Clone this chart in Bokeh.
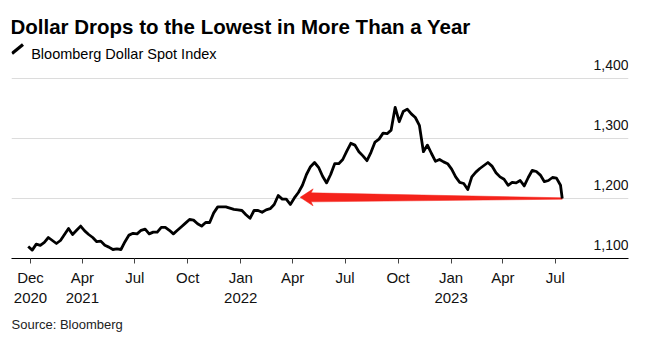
import numpy as np
import pandas as pd
from bokeh.plotting import figure
from bokeh.models import Range1d, FixedTicker, Label, LabelSet, ColumnDataSource, Arrow, Title
from bokeh.core.properties import value
from bokeh.embed import file_html
from bokeh.resources import INLINE

TITLE = "Dollar Drops to the Lowest in More Than a Year"
SUBTITLE = "Bloomberg Dollar Spot Index"
SOURCE = "Source: Bloomberg"

# weekly readings of the Bloomberg Dollar Spot Index (Mondays from 2020-12-28)
week_start = "2020-12-28"
index_values = [
    1120, 1114, 1124, 1122, 1127, 1135, 1130, 1125, 1130, 1140,
    1150, 1140, 1147, 1154, 1146, 1140, 1135, 1128, 1129, 1122,
    1119, 1115, 1116, 1115, 1128, 1139, 1142, 1141, 1147, 1149,
    1141, 1144, 1144, 1152, 1152, 1147, 1141, 1147, 1153, 1159,
    1165, 1164, 1158, 1154, 1160, 1160, 1176, 1186, 1186, 1186,
    1184, 1182, 1181, 1180, 1173, 1167, 1180, 1180, 1177, 1181,
    1183, 1190, 1205, 1199, 1199, 1190, 1201, 1210, 1222, 1240,
    1253, 1260, 1252, 1237, 1226, 1240, 1258, 1258, 1265, 1279,
    1292, 1289, 1278, 1271, 1263, 1277, 1294, 1299, 1309, 1308,
    1314, 1352, 1328, 1345, 1349, 1341, 1335, 1322, 1278, 1289,
    1275, 1262, 1265, 1261, 1258, 1249, 1236, 1227, 1225, 1215,
    1236, 1244, 1250, 1255, 1260, 1254, 1243, 1236, 1232, 1222,
    1227, 1226, 1230, 1221, 1235, 1247, 1245, 1239, 1228, 1230,
    1235, 1234, 1222,
]
last_date = "2023-07-13"
last_value = 1200

tick_dates = ["2021-01-01", "2021-04-01", "2021-07-01", "2021-10-01",
              "2022-01-01", "2022-04-01", "2022-07-01", "2022-10-01",
              "2023-01-01", "2023-04-01", "2023-07-01"]
tick_labels = ["Dec\n2020", "Apr\n2021", "Jul", "Oct", "Jan\n2022", "Apr",
               "Jul", "Oct", "Jan\n2023", "Apr", "Jul"]
y_ticks = [1100, 1200, 1300, 1400]
y_tick_labels = ["1,100", "1,200", "1,300", "1,400"]

arrow_tail = ("2023-07-13", 1200)
arrow_tip = ("2022-04-14", 1202)

RED = "#f5231b"

dates = list(pd.date_range(week_start, periods=len(index_values), freq="7D")) + [pd.Timestamp(last_date)]
vals = index_values + [last_value]

W, H = 645, 342
ML, MR, MT, MB = 11, 17, 0, 84
FW, FH = W - ML - MR, H - MT - MB
PX_PER_UNIT = 0.6

x0, x1 = pd.Timestamp("2020-11-29"), pd.Timestamp("2023-11-05")
y0 = 1100
y1 = y0 + FH / PX_PER_UNIT

p = figure(width=W, height=H, x_axis_type="datetime", title=None,
           x_range=Range1d(x0, x1), y_range=Range1d(y0, y1),
           output_backend="svg", toolbar_location=None,
           min_border_left=ML, min_border_right=MR, min_border_top=MT, min_border_bottom=MB)
p.outline_line_color = None
p.background_fill_color = "white"
p.border_fill_color = "white"

# grid
p.xgrid.visible = False
p.yaxis.visible = False
p.ygrid.ticker = FixedTicker(ticks=[t for t in y_ticks if t > y0])
p.ygrid.grid_line_color = "#dcdcdc"
p.ygrid.grid_line_width = 1

# x axis
tick_ms = [pd.Timestamp(d).value / 1e6 for d in tick_dates]
ax = p.xaxis[0]
ax.ticker = FixedTicker(ticks=tick_ms)
ax.major_label_overrides = {t: l for t, l in zip(tick_ms, tick_labels)}
ax.axis_line_color = "black"
ax.axis_line_width = 1
ax.major_tick_line_color = "#444444"
ax.major_tick_in = 0
ax.major_tick_out = 5
ax.minor_tick_line_color = None
ax.major_label_text_font = "Liberation Sans"
ax.major_label_text_font_size = "15px"
ax.major_label_text_color = "#111111"
ax.major_label_standoff = 5

# red arrow (tapered polygon anchored on data points)
ppd = FW / ((x1 - x0).total_seconds() / 86400)
ppu = FH / (y1 - y0)
tip_t, tip_v = pd.Timestamp(arrow_tip[0]), arrow_tip[1]
tail_t, tail_v = pd.Timestamp(arrow_tail[0]), arrow_tail[1]
dx = (tail_t - tip_t).total_seconds() / 86400 * ppd
dy = (tail_v - tip_v) * ppu
L = np.hypot(dx, dy)
u = np.array([dx, dy]) / L
v = np.array([-u[1], u[0]])
shape = [(0, 0), (13, 8.5), (11, 4.5), (L, 0.7), (L, -0.7), (11, -4.5), (13, -8.5)]
ax_x, ax_y = [], []
for s, n in shape:
    px = s * u + n * v
    ax_x.append(tip_t + pd.Timedelta(days=px[0] / ppd))
    ax_y.append(tip_v + px[1] / ppu)
p.patch(ax_x, ax_y, fill_color=RED, line_color=RED, line_width=0.5)

# series
p.line(dates, vals, line_color="black", line_width=2.8, line_join="round")

# y tick labels above grid lines at right
ysrc = ColumnDataSource(dict(x=[x1] * len(y_ticks), y=y_ticks, t=y_tick_labels))
p.add_layout(LabelSet(x="x", y="y", text="t", source=ysrc, text_align="right",
                      text_baseline="alphabetic", y_offset=8.5,
                      text_font=value("Liberation Sans"), text_font_size=value("14px"),
                      text_color="#111111"))

# titles (inside the frame, which reaches the top of the canvas)
p.add_layout(Label(x=-1, y=232, x_units="screen", y_units="screen", text=TITLE,
                   text_font="Liberation Sans", text_font_style="bold",
                   text_font_size="20.5px", text_color="black", text_baseline="alphabetic"))
p.add_layout(Label(x=19.7, y=205, x_units="screen", y_units="screen", text=SUBTITLE,
                   text_font="Liberation Sans", text_font_size="14.5px",
                   text_color="black", text_baseline="alphabetic"))
p.add_layout(Arrow(x_start=0.5, y_start=205, x_end=11.5, y_end=214,
                   start_units="screen", end_units="screen", end=None,
                   line_width=3.2, line_color="black", line_cap="butt"))

# source note below the axis
p.add_layout(Title(text=SOURCE, align="left", text_font="Liberation Sans",
                   text_font_size="13px", text_font_style="normal",
                   text_color="#222222", standoff=12), "below")

open("out.html", "w").write(file_html(p, INLINE))
